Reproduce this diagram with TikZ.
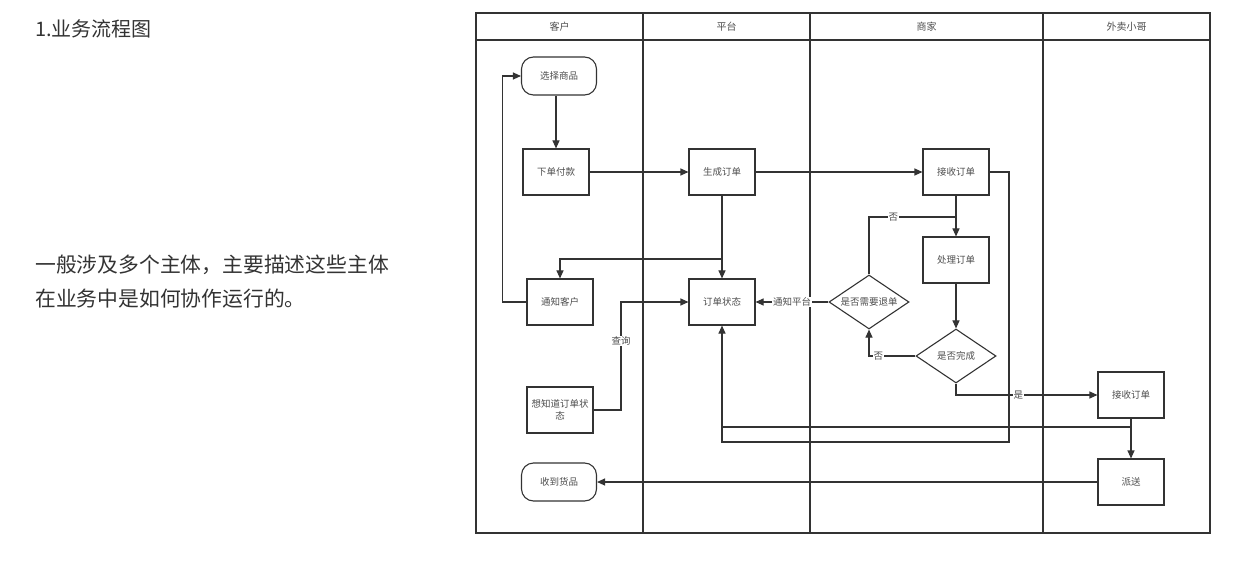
\documentclass[tikz,border=0pt]{standalone}
\usepackage{fontspec}
\setmainfont{Noto Sans CJK SC}
\usetikzlibrary{arrows.meta,shapes.geometric}
\definecolor{ln}{HTML}{333333}
\definecolor{tx}{HTML}{4D4D4D}
\definecolor{bodytx}{HTML}{333333}
\begin{document}
\begin{tikzpicture}[x=1pt,y=-1pt,
  small/.style={font=\fontsize{9.5}{12}\selectfont, text=tx},
  box/.style={draw=ln, line width=1.1pt, minimum width=66pt, minimum height=46pt, inner sep=1pt, small, align=center},
  term/.style={box, rounded corners=12pt, minimum width=75pt, minimum height=38pt},
  dec/.style={diamond, draw=ln, line width=1.1pt, minimum width=80pt, minimum height=54pt, aspect=1.5, inner sep=0pt, small},
  conn/.style={draw=ln, line width=1.1pt},
  arr/.style={conn, -{Triangle[length=8pt,width=7pt]}},
  lbl/.style={fill=white, inner sep=1pt, small},
  lane/.style={draw=ln, line width=1.1pt},
  hdr/.style={font=\fontsize{10}{12}\selectfont, text=tx}
]
\useasboundingbox (0,0) rectangle (1244,577);

% left text
\node[anchor=west, font=\fontsize{20}{24}\selectfont, text=bodytx, inner sep=0pt] (title) at (35,29) {1.业务流程图};
\node[anchor=west, font=\fontsize{20.8}{24}\selectfont, text=bodytx, inner sep=0pt] (desc1) at (35,265) {一般涉及多个主体，主要描述这些主体};
\node[anchor=west, font=\fontsize{20.8}{24}\selectfont, text=bodytx, inner sep=0pt] (desc2) at (35,299) {在业务中是如何协作运行的。};

% swimlanes
\draw[lane] (476,13) rectangle (1210,533);
\draw[lane] (476,40) -- (1210,40);
\foreach \x in {643,810,1043} \draw[lane] (\x,13) -- (\x,533);
\node[hdr] (h1) at (559.5,27) {客户};
\node[hdr] (h2) at (726.5,27) {平台};
\node[hdr] (h3) at (926.5,27) {商家};
\node[hdr] (h4) at (1126.5,27) {外卖小哥};

% nodes
\node[term] (xz) at (559,76) {选择商品};
\node[box] (xd) at (556,172) {下单付款};
\node[box] (sc) at (722,172) {生成订单};
\node[box] (js1) at (956,172) {接收订单};
\node[box] (cl) at (956,260) {处理订单};
\node[dec] (td) at (869,302) {是否需要退单};
\node[dec] (wc) at (956,356) {是否完成};
\node[box] (zt) at (722,302) {订单状态};
\node[box] (tz) at (560,302) {通知客户};
\node[box] (xx) at (560,410) {想知道订单状\\态};
\node[box] (js2) at (1131,395) {接收订单};
\node[box] (ps) at (1131,482) {派送};
\node[term] (sd) at (559,482) {收到货品};

% waypoints
\coordinate (b1) at (722,259);
\coordinate (c1) at (1131,427);
\coordinate (c2) at (722,427);
\coordinate (m1) at (1009,172);
\coordinate (m2) at (1009,442);
\coordinate (m3) at (722,442);
\coordinate (q1) at (621,410);
\coordinate (q2) at (621,302);
\coordinate (n1) at (956,217);

% connectors
\draw[arr] (xz.south -| xd.north) -- (xd.north);
\draw[arr] (xd) -- (sc);
\draw[arr] (sc) -- (js1);
\draw[arr] (sc) -- (zt);
\draw[arr] (b1) -| (tz.north);
\draw[arr] (tz.west) -- ++(-24,0) |- (xz.west);
\draw[arr] (xx.east) -- (q1) -- node[lbl, pos=0.64]{查询} (q2) -- (zt.west);
\draw[arr] (td.west) -- node[lbl]{通知平台} (zt.east);
\draw[arr] (js1) -- (cl);
\draw[conn] (td.north) |- node[lbl, pos=0.64]{否} (n1);
\draw[arr] (cl) -- (wc);
\draw[arr] (wc.west) -| node[lbl, pos=0.4]{否} (td.south);
\draw[arr] (wc.south) |- node[lbl, pos=0.72]{是} (js2.west);
\draw[arr] (js2) -- (ps);
\draw[arr] (c1) -- (c2) -- (zt.south);
\draw[conn] (js1.east) -- (m1) -- (m2) -- (m3) -- (c2);
\draw[arr] (ps) -- (sd);
\end{tikzpicture}
\end{document}
